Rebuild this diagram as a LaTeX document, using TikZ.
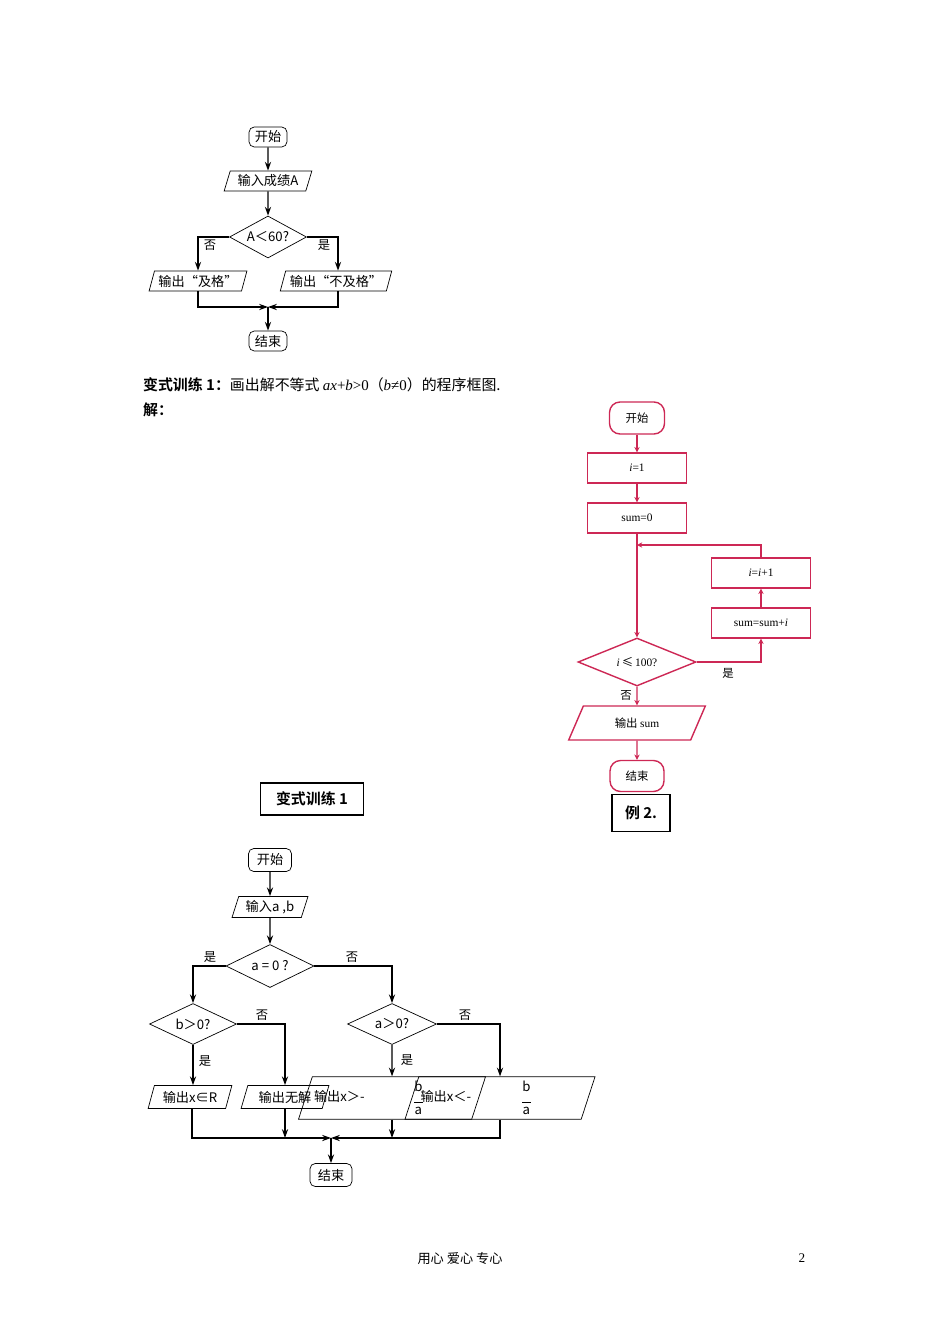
\documentclass[tikz,border=0pt]{standalone}
\usepackage{fontspec}
\setmainfont{Liberation Serif}
\newfontfamily\cjk{Noto Sans CJK SC}
\newfontfamily\cjkb{Noto Sans CJK SC Bold}
\newfontfamily\tms{Liberation Serif}
\usetikzlibrary{shapes.geometric,arrows.meta}
\definecolor{rd}{RGB}{205,40,85}
\newcommand{\mv}[1]{{\tms\itshape #1}}
\newcommand{\fr}{\tikz[baseline=-0.25em]{\node[inner sep=0pt,align=center,font=\cjk\fontsize{7.5}{7.5}\selectfont] {b\\[-1pt]\rule{5pt}{0.4pt}\\[-1pt]a};}}
\begin{document}
\begin{tikzpicture}[x=0.02cm,y=-0.02cm,
  every node/.style={font=\cjk\fontsize{7.5}{8}\selectfont, inner sep=1pt},
  term/.style={draw,rounded corners=3pt,minimum width=38*0.02cm,minimum height=20*0.02cm},
  io/.style={draw,trapezium,trapezium left angle=72,trapezium right angle=108,trapezium stretches=true,minimum height=20*0.02cm},
  dec/.style={draw,diamond,aspect=1.9,inner sep=0pt},
  ar/.style={-{Stealth[length=5pt,width=3.5pt]},thick},
  rbox/.style={draw=rd,thick,minimum width=99*0.02cm,minimum height=30*0.02cm,font=\tms\fontsize{6.5}{7}\selectfont},
  rar/.style={-{Stealth[length=3pt,width=3pt]},draw=rd,thick},
  lbl/.style={font=\cjk\fontsize{7}{8}\selectfont}]
\useasboundingbox (0,0) rectangle (950,1344);
% ---------- diagram 1
\node[term] (s1) at (268,137) {开始};
\node[io,minimum width=88*0.02cm] (in1) at (268,181) {输入成绩A};
\node[dec,minimum width=77*0.02cm,minimum height=42*0.02cm] (d1) at (268,237) {A＜60?};
\node[io,minimum width=98*0.02cm] (o1) at (198,281) {输出“及格”};
\node[io,minimum width=112*0.02cm] (o2) at (336,281) {输出“不及格”};
\node[term] (e1) at (268,341) {结束};
\coordinate (m1) at (268,307);
\draw[ar] (s1) -- (in1);
\draw[ar] (in1) -- (d1);
\draw[ar] (d1.west) -| (o1.north-|198,0);
\draw[ar] (d1.east) -| (o2.north-|338,0);
\draw[ar] (o1.south-|198,0) |- (m1);
\draw[ar] (o2.south-|338,0) |- (m1);
\draw[ar] (m1) -- (e1);
\node[lbl] at (210,245) {否};
\node[lbl] at (324,245) {是};
% ---------- text
\node[anchor=west,font=\fontsize{8.5}{9}\selectfont] (t1) at (141,385) {{\cjkb 变式训练 1：}\cjk 画出解不等式 \mv{ax}{\tms +}\mv{b}{\tms >0}（\mv{b}{\tms ≠0}）的程序框图.};
\node[anchor=west,font=\cjkb\fontsize{8.5}{9}\selectfont] (t2) at (141,410) {解：};
% ---------- diagram 2 (red)
\node[draw=rd,thick,rounded corners=6pt,minimum width=55*0.02cm,minimum height=32*0.02cm,font=\cjk\fontsize{6.5}{7}\selectfont] (s2) at (637,418) {开始};
\node[rbox] (b1) at (637,468) {\mv{i}=1};
\node[rbox] (b2) at (637,518) {sum=0};
\node[draw=rd,thick,diamond,aspect=2.4,minimum width=118*0.02cm,minimum height=48*0.02cm,inner sep=0pt,font=\tms\fontsize{6.5}{7}\selectfont] (d2) at (637,662) {\mv{i}\,{\cjk ≤}\,100?};
\node[rbox] (b4) at (761,623) {sum=sum+\mv{i}};
\node[rbox] (b3) at (761,573) {\mv{i}=\mv{i}+1};
\node[draw=rd,thick,trapezium,trapezium left angle=65,trapezium right angle=115,trapezium stretches=true,minimum width=137*0.02cm,minimum height=34*0.02cm,font=\cjk\fontsize{6.5}{7}\selectfont] (o3) at (637,723) {输出 {\tms sum}};
\node[draw=rd,thick,rounded corners=6pt,minimum width=54*0.02cm,minimum height=31*0.02cm,font=\cjk\fontsize{6.5}{7}\selectfont] (e2) at (637,776) {结束};
\coordinate (m2) at (637,545);
\draw[rar] (s2) -- (b1);
\draw[rar] (b1) -- (b2);
\draw[rar] (b2) -- (d2);
\draw[rar] (d2.east) -| (b4.south);
\draw[rar] (b4) -- (b3);
\draw[rar] (b3.north) |- (m2);
\draw[rar] (d2) -- (o3);
\draw[rar] (o3) -- (e2);
\node[lbl,font=\cjk\fontsize{6.5}{7}\selectfont] at (728,673) {是};
\node[lbl,font=\cjk\fontsize{6.5}{7}\selectfont] at (626,695) {否};
\node[draw,thick,minimum width=58*0.02cm,minimum height=37*0.02cm,font=\cjkb\fontsize{8.5}{9}\selectfont] (ex2) at (641,813) {例 2.};
\node[draw,thick,minimum width=103*0.02cm,minimum height=32*0.02cm,font=\cjkb\fontsize{8.5}{9}\selectfont] (bx) at (312,799) {变式训练 1};
% ---------- diagram 3
\node[term,minimum width=43*0.02cm,minimum height=23*0.02cm] (s3) at (270,860) {开始};
\node[io,minimum width=76*0.02cm,minimum height=21*0.02cm] (in3) at (270,907) {输入a ,b};
\node[dec,minimum width=88*0.02cm,minimum height=43*0.02cm] (d3) at (270,966) {a = 0 ?};
\node[dec,minimum width=87*0.02cm,minimum height=41*0.02cm] (d4) at (193,1024) {b＞0?};
\node[dec,minimum width=89*0.02cm,minimum height=41*0.02cm] (d5) at (392,1024) {a＞0?};
\node[io,minimum width=84*0.02cm,minimum height=23*0.02cm] (o4) at (190,1097) {输出x∈R};
\node[io,minimum width=88*0.02cm,minimum height=23*0.02cm] (o5) at (285,1097) {输出无解};
\node[io,minimum width=103*0.02cm,minimum height=39*0.02cm] (o6) at (392,1098) {输出x＞-\,\fr};
\node[io,minimum width=106*0.02cm,minimum height=39*0.02cm] (o7) at (500,1098) {输出x＜-\,\fr};
\node[term,minimum width=42*0.02cm,minimum height=23*0.02cm] (e3) at (331,1175) {结束};
\coordinate (m3) at (331,1138);
\draw[ar] (s3) -- (in3);
\draw[ar] (in3) -- (d3);
\draw[ar] (d3.west) -| (d4.north);
\draw[ar] (d3.east) -| (d5.north);
\draw[ar] (d4.south) -- (d4.south|-o4.north);
\draw[ar] (d4.east) -| (o5.north);
\draw[ar] (d5.south) -- (o6.north);
\draw[ar] (d5.east) -| (o7.north);
\draw[ar] (o4.south-|192,0) |- (m3);
\draw[ar] (o7.south) |- (m3);
\draw[ar] (o5.south) -- (o5.south|-m3);
\draw[ar] (o6.south) -- (o6.south|-m3);
\draw[ar] (m3) -- (e3);
\node[lbl] at (210,957) {是};
\node[lbl] at (352,957) {否};
\node[lbl] at (262,1015) {否};
\node[lbl] at (205,1061) {是};
\node[lbl] at (407,1060) {是};
\node[lbl] at (465,1015) {否};
% footer
\node[font=\cjk\fontsize{7.5}{8}\selectfont] (f1) at (460,1258) {用心 爱心 专心};
\node[font=\tms\fontsize{7.5}{8}\selectfont] (f2) at (802,1258) {2};
\end{tikzpicture}
\end{document}
